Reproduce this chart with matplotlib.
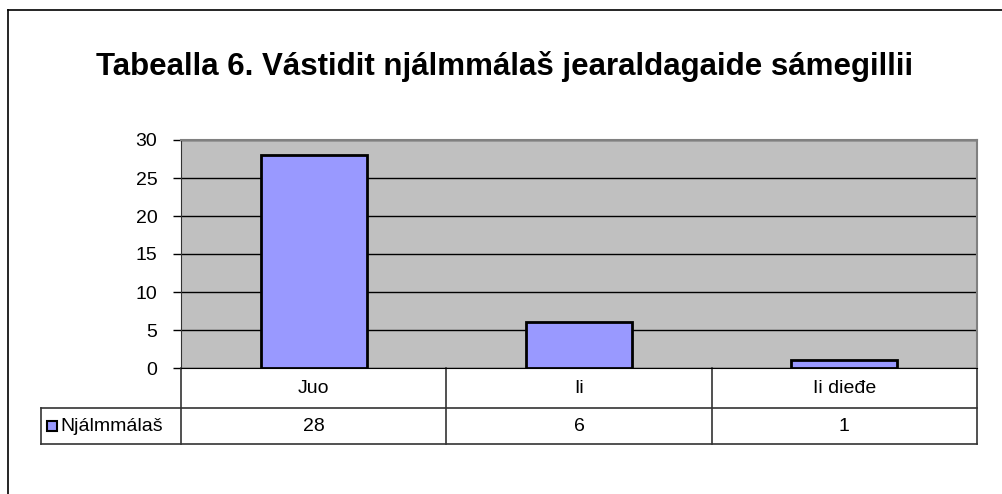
import matplotlib.pyplot as plt
from matplotlib.patches import Rectangle
from matplotlib.lines import Line2D
import matplotlib.transforms as mtransforms

plt.rcParams['font.family'] = ['Liberation Sans', 'DejaVu Sans']

# Chart data
categories = ['Juo', 'Ii', 'Ii dieđe']
values = [28, 6, 1]
series_name = 'Njálmmálaš'
title = 'Tabealla 6. Vástidit njálmmálaš jearaldagaide sámegillii'
yticks = [0, 5, 10, 15, 20, 25, 30]

W, H = 1002, 494
fig = plt.figure(figsize=(W / 100, H / 100), dpi=100)


def fx(px):
    return px / W


def fy(py):
    return 1 - py / H


# outer chart frame (top and left edges visible)
fig.add_artist(Line2D([fx(8), fx(1002)], [fy(10), fy(10)], color='black', lw=1.2))
fig.add_artist(Line2D([fx(8), fx(8)], [fy(10), fy(494)], color='black', lw=1.2))

fig.text(fx(505), fy(75), title, ha='center', va='baseline',
         fontsize=22.5, fontweight='bold')

left, right, top, bottom = 181, 977, 140, 368
ax = fig.add_axes([fx(left), fy(bottom), fx(right - left), (bottom - top) / H])
ax.set_facecolor('#C0C0C0')

x = list(range(len(categories)))
ax.bar(x, values, width=0.4, color='#9999FF', edgecolor='black', linewidth=2, zorder=3)

ax.set_xlim(-0.5, len(categories) - 0.5)
ax.set_ylim(0, 30)
ax.set_yticks(yticks)
ax.set_yticklabels([str(t) for t in yticks])
ax.yaxis.grid(True, color='black', linewidth=1)
ax.set_axisbelow(True)
ax.tick_params(axis='y', length=6, width=1, labelsize=14, pad=11, colors='black')
ax.set_xticks([])

for side in ['top', 'right']:
    ax.spines[side].set_color('#808080')
    ax.spines[side].set_linewidth(1.5)
ax.spines['left'].set_color('#333333')
ax.spines['bottom'].set_color('black')

# data table below the axis
trans = mtransforms.blended_transform_factory(ax.transData, ax.transAxes)
ph = bottom - top
r1 = -40 / ph
r2 = -76 / ph
xl = -0.5 - (left - 41) / ((right - left) / len(categories))
xr = len(categories) - 0.5
lc = '#333333'


def tline(xs, ys):
    ax.add_line(Line2D(xs, ys, transform=trans, color=lc, lw=1.2, clip_on=False))


tline([xl, xr], [r1, r1])
tline([xl, xr], [r2, r2])
tline([xl, xl], [r1, r2])
tline([-0.5, -0.5], [0, r2])
for i in range(1, len(categories) + 1):
    tline([i - 0.5, i - 0.5], [0, r2])

for i, (c, v) in enumerate(zip(categories, values)):
    ax.text(i, r1 / 2, c, transform=trans, ha='center', va='center', fontsize=14)
    ax.text(i, (r1 + r2) / 2, str(v), transform=trans, ha='center', va='center', fontsize=14)

# legend key in the table
fig.add_artist(Rectangle((fx(47), fy(431)), fx(10), 10 / H, facecolor='#9999FF',
                         edgecolor='black', linewidth=1.5))
fig.text(fx(60), fy(426), series_name, ha='left', va='center', fontsize=14)

fig.savefig('out.png', dpi=100)
